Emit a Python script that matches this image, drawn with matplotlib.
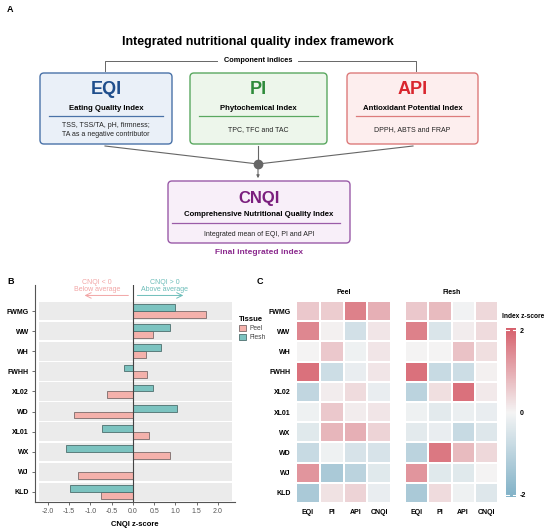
import numpy as np
import matplotlib.pyplot as plt
from matplotlib.patches import FancyBboxPatch, Patch
from matplotlib.colors import LinearSegmentedColormap

plt.rcParams['font.family'] = ['Liberation Sans', 'DejaVu Sans']

# panel B data (CNQI z-score, top to bottom)
b_rows = ['FWMG', 'WW', 'WH', 'FWHH', 'XL02', 'WD', 'XL01', 'WX', 'WJ', 'KLD']
b_peel = [1.72, 0.48, 0.30, 0.34, -0.60, -1.38, 0.37, 0.88, -1.29, -0.74]
b_flesh = [1.00, 0.88, 0.66, -0.20, 0.48, 1.04, -0.73, -1.56, 0.00, -1.48]

# panel C data (index z-scores, top to bottom)
c_rows = ['FWMG', 'WW', 'WH', 'FWHH', 'XL02', 'XL01', 'WX', 'WD', 'WJ', 'KLD']
c_cols = ['EQI', 'PI', 'API', 'CNQI']
c_peel = [[0.60, 0.55, 1.60, 0.95],
          [1.50, 0.05, -0.60, 0.20],
          [0.00, 0.60, -0.10, 0.20],
          [1.80, -0.70, -0.20, 0.20],
          [-0.90, 0.10, 0.35, -0.20],
          [-0.10, 0.60, 0.10, 0.20],
          [-0.35, 0.85, 0.95, 0.45],
          [-0.80, -0.10, -0.50, -0.50],
          [1.30, -1.30, -1.00, -0.35],
          [-1.30, 0.25, 0.45, -0.20]]
c_flesh = [[0.60, 0.80, -0.05, 0.40],
           [1.60, -0.45, 0.10, 0.35],
           [0.00, 0.00, 0.70, 0.30],
           [1.80, -0.80, -0.70, 0.05],
           [-1.00, 0.30, 1.80, 0.15],
           [-0.10, -0.30, -0.15, -0.20],
           [-0.30, -0.20, -0.80, -0.40],
           [-1.00, 1.70, 0.80, 0.40],
           [1.30, -0.35, -0.35, 0.00],
           [-1.30, 0.35, -0.10, -0.40]]

W, H = 550, 530
fig = plt.figure(figsize=(5.5, 5.3), dpi=100)

# ---------------- panel A: framework diagram (pixel coordinates) ----------------
axA = fig.add_axes([0, 0, 1, 1])
axA.set_xlim(0, W)
axA.set_ylim(H, 0)
axA.axis('off')

axA.text(7, 9, 'A', fontsize=6.5, fontweight='bold', va='center')
axA.text(258, 42, 'Integrated nutritional quality index framework', fontsize=9,
         fontweight='bold', ha='center', va='center')

# bracket
axA.plot([105, 105, 217], [71, 61, 61], color='#666666', lw=0.7)
axA.plot([298, 416, 416], [61, 61, 71], color='#666666', lw=0.7)
axA.text(258, 61, 'Component indices', fontsize=5.3, fontweight='bold', ha='center', va='center')

boxes = [
    (40, 172, 'EQI', 'Eating Quality Index', 'TSS, TSS/TA, pH, firmness;\nTA as a negative contributor',
     '#4a72a8', '#eaf0f8', '#1f4e8c'),
    (190, 327, 'PI', 'Phytochemical Index', 'TPC, TFC and TAC',
     '#5aa860', '#edf6eb', '#2e8b3a'),
    (347, 478, 'API', 'Antioxidant Potential Index', 'DPPH, ABTS and FRAP',
     '#dd7b7b', '#fdeeee', '#d9262e'),
]
for x0, x1, name, sub, desc, ec, fc, tc in boxes:
    axA.add_patch(FancyBboxPatch((x0, 73), x1 - x0, 71, boxstyle='round,pad=0,rounding_size=4',
                                 fc=fc, ec=ec, lw=1.0))
    xc = (x0 + x1) / 2
    axA.text(xc, 89, name, fontsize=13, fontweight='bold', color=tc, ha='center', va='center')
    axA.text(xc, 108, sub, fontsize=5.6, fontweight='bold', ha='center', va='center')
    axA.plot([x0 + 9, x1 - 9], [116, 116], color=ec, lw=0.9)
    axA.text(xc, 130, desc, fontsize=5, ha='center', va='center', linespacing=1.3, color='#222222')

# connectors
for xs in [105, 258, 413]:
    axA.plot([xs, 258], [146, 164], color='#666666', lw=0.8)
axA.plot(258, 164, 'o', ms=6, color='#666666')
axA.annotate('', xy=(258, 181), xytext=(258, 166),
             arrowprops=dict(arrowstyle='-|>', color='#666666', lw=0.8, mutation_scale=4))

axA.add_patch(FancyBboxPatch((168, 181), 182, 62, boxstyle='round,pad=0,rounding_size=4',
                             fc='#f8eff9', ec='#9a5ba8', lw=1.0))
axA.text(259, 198, 'CNQI', fontsize=12, fontweight='bold', color='#7b1f7e', ha='center', va='center')
axA.text(259, 215, 'Comprehensive Nutritional Quality Index', fontsize=5.6, fontweight='bold',
         ha='center', va='center')
axA.plot([172, 340], [223, 223], color='#9a5ba8', lw=0.9)
axA.text(259, 235, 'Integrated mean of EQI, PI and API', fontsize=5, ha='center', va='center',
         color='#222222')
axA.text(259, 253, 'Final integrated index', fontsize=6, fontweight='bold', color='#8b2a8e',
         ha='center', va='center')

axA.text(7, 281, 'B', fontsize=6.5, fontweight='bold', va='center')
axA.text(257, 281, 'C', fontsize=6.5, fontweight='bold', va='center')

# ---------------- panel B: diverging bars ----------------
def fig_rect(x0, x1, y0, y1):
    return [x0 / W, (H - y1) / H, (x1 - x0) / W, (y1 - y0) / H]

axB = fig.add_axes(fig_rect(35, 235, 285, 502))
n = len(b_rows)
ypos = np.arange(n, 0, -1)
for y in ypos:
    axB.axhspan(y - 0.46, y + 0.46, xmin=0.02, xmax=0.985, color='#ebebeb', zorder=0, lw=0)
bh = 0.34
c_peel_col = '#f4b1ab'
c_flesh_col = '#7cc3c0'
axB.barh(ypos - bh / 2, b_peel, height=bh, color=c_peel_col, edgecolor='#7a6a6a', lw=0.6,
         label='Peel', zorder=2)
axB.barh(ypos + bh / 2, b_flesh, height=bh, color=c_flesh_col, edgecolor='#4d6f6e', lw=0.6,
         label='Flesh', zorder=2)
axB.axvline(0, color='#444444', lw=0.8, zorder=3)
axB.set_xlim(-2.3, 2.4)
axB.set_ylim(0.5, 11.3)
axB.set_yticks(ypos)
axB.set_yticklabels(b_rows, fontsize=5, fontweight='bold')
axB.set_xticks(np.arange(-2, 2.01, 0.5))
axB.set_xticklabels(['%.1f' % v for v in np.arange(-2, 2.01, 0.5)], fontsize=5, color='#555555')
axB.set_xlabel('CNQI z-score', fontsize=5.5, fontweight='bold', labelpad=4)
axB.tick_params(axis='both', length=2.5, width=0.6, color='#555555', pad=2)
for s in ['top', 'right']:
    axB.spines[s].set_visible(False)
for s in ['left', 'bottom']:
    axB.spines[s].set_color('#555555')
    axB.spines[s].set_linewidth(0.8)

axB.annotate('', xy=(-1.2, 10.78), xytext=(-0.04, 10.78),
             arrowprops=dict(arrowstyle='->', color='#f2a5a5', lw=0.7))
axB.annotate('', xy=(1.25, 10.78), xytext=(0.04, 10.78),
             arrowprops=dict(arrowstyle='->', color='#6cbdb9', lw=0.7))
axB.text(-0.84, 11.25, 'CNQI < 0\nBelow average', fontsize=5, color='#f2a5a5', ha='center',
         va='center', linespacing=1.05, clip_on=False)
axB.text(0.74, 11.25, 'CNQI > 0\nAbove average', fontsize=5, color='#6cbdb9', ha='center',
         va='center', linespacing=1.05, clip_on=False)

leg = axB.legend(handles=[Patch(fc=c_peel_col, ec='#7a6a6a', lw=0.6, label='Peel'),
                          Patch(fc=c_flesh_col, ec='#4d6f6e', lw=0.6, label='Flesh')],
                 loc='upper left', bbox_to_anchor=(233 / W, (H - 310) / H),
                 bbox_transform=fig.transFigure, frameon=False, title='Tissue',
                 fontsize=4.8, title_fontproperties={'weight': 'bold', 'size': 5.5},
                 handlelength=1.0, handleheight=0.9, handletextpad=0.6, labelspacing=0.3,
                 alignment='left', labelcolor='#444444')

# ---------------- panel C: heatmaps ----------------
cmap = LinearSegmentedColormap.from_list('bwr_soft', ['#80b1c7', '#f4f4f4', '#d6606c'])
vmin, vmax = -2.05, 2.05

for (x0, x1), title, data in [((296, 391), 'Peel', c_peel), ((405, 498), 'Flesh', c_flesh)]:
    ax = fig.add_axes(fig_rect(x0, x1, 301, 503))
    mesh = ax.pcolormesh(np.array(data), cmap=cmap, vmin=vmin, vmax=vmax,
                         edgecolors='white', linewidth=1.2)
    ax.set_ylim(len(c_rows), 0)
    ax.set_xticks(np.arange(len(c_cols)) + 0.5)
    ax.set_xticklabels(c_cols, fontsize=5, fontweight='bold')
    ax.set_yticks(np.arange(len(c_rows)) + 0.5)
    if title == 'Peel':
        ax.set_yticklabels(c_rows, fontsize=5, fontweight='bold')
    else:
        ax.set_yticklabels([])
    ax.tick_params(length=0, pad=4)
    for s in ax.spines.values():
        s.set_visible(False)
    ax.set_title(title, fontsize=5, fontweight='bold', pad=5)

cax = fig.add_axes(fig_rect(506, 516, 328, 497))
cb = fig.colorbar(mesh, cax=cax, ticks=[-2, 0, 2])
cb.outline.set_visible(False)
cb.ax.tick_params(labelsize=5, length=0, pad=3)
cb.ax.set_yticklabels(['-2', '0', '2'], fontweight='bold')
for v in [-2, 2]:
    cax.plot([0, 0.3], [v, v], color='white', lw=0.8)
    cax.plot([0.7, 1], [v, v], color='white', lw=0.8)
fig.text(502 / W, (H - 317) / H, 'Index z-score', fontsize=4.8, fontweight='bold', va='center')

fig.savefig('out.png', dpi=100)
